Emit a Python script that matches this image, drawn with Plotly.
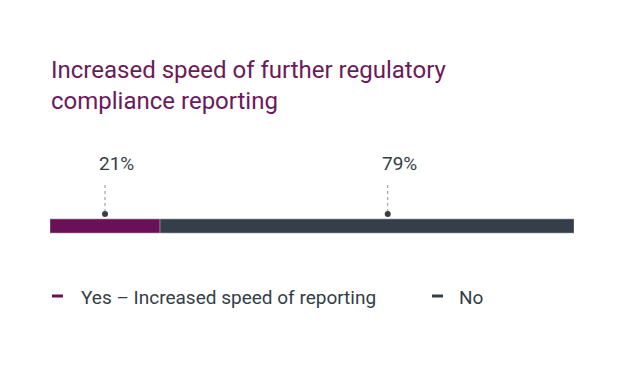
import plotly.graph_objects as go

categories = ["Yes – Increased speed of reporting", "No"]
values = [21, 79]
labels = ["21%", "79%"]
colors = ["#6b0f57", "#343f49"]
title_text = "Increased speed of further regulatory<br>compliance reporting"

# where along each segment the callout sits (fraction of segment length)
anchor_frac = [0.5, 0.55]

OFF = 8  # page body margin
W, H = 624 - OFF, 371 - OFF
ML = 50 - OFF
MR = W - (574 - OFF)
MT = 140 - OFF
MB = H - (250 - OFF)
PH = H - MT - MB

def py(pix):
    return ((250 - OFF) - (pix - OFF)) / PH

def px(pix):
    return ((pix - OFF) - ML) / (W - ML - MR)

fig = go.Figure()

bar_center = py(226)
bar_width = 14 / PH
base = 0
anchors = []
for cat, v, c, f in zip(categories, values, colors, anchor_frac):
    fig.add_trace(go.Bar(
        x=[v], y=[bar_center], base=[base], orientation="h",
        width=bar_width, marker=dict(color=c, line=dict(width=0.6, color="#9aa0a6")),
        name=cat, showlegend=False, hoverinfo="skip",
    ))
    anchors.append(base + v * f)
    base += v

for m in anchors:
    fig.add_trace(go.Scatter(
        x=[m, m], y=[py(212), py(183)], mode="lines",
        line=dict(color="#8c939a", width=1, dash="dot"),
        showlegend=False, hoverinfo="skip",
    ))
fig.add_trace(go.Scatter(
    x=anchors, y=[py(214)] * len(anchors), mode="markers",
    marker=dict(color="#343f49", size=6),
    showlegend=False, hoverinfo="skip",
))
for m, lab in zip(anchors, labels):
    fig.add_annotation(x=m, y=py(163), text=lab, showarrow=False,
                       xanchor="left", yanchor="middle", xshift=-8,
                       font=dict(family="Roboto", size=19, color="#333d47"))

# custom legend
leg_positions = [(52, 79), (432, 457)]
for (mx, tx), cat, c in zip(leg_positions, categories, colors):
    fig.add_shape(type="line", xref="paper", yref="paper",
                  x0=px(mx), x1=px(mx + 11), y0=py(296), y1=py(296),
                  line=dict(color=c, width=3))
    fig.add_annotation(xref="paper", yref="paper", x=px(tx), y=py(297),
                       text=cat, showarrow=False, xanchor="left", yanchor="middle",
                       font=dict(family="Roboto", size=19, color="#333d47"))

fig.update_layout(
    width=W, height=H,
    margin=dict(l=ML, r=MR, t=MT, b=MB),
    paper_bgcolor="white", plot_bgcolor="white",
    title=dict(text=title_text, x=(51 - OFF) / W, xanchor="left",
               y=1 - 70 / H, yanchor="top",
               font=dict(family="Roboto", size=24, color="#6b1a5b")),
    xaxis=dict(range=[0, 100], visible=False, fixedrange=True),
    yaxis=dict(range=[0, 1], visible=False, fixedrange=True),
    barmode="overlay",
    showlegend=False,
)

fig.write_html("out.html")
